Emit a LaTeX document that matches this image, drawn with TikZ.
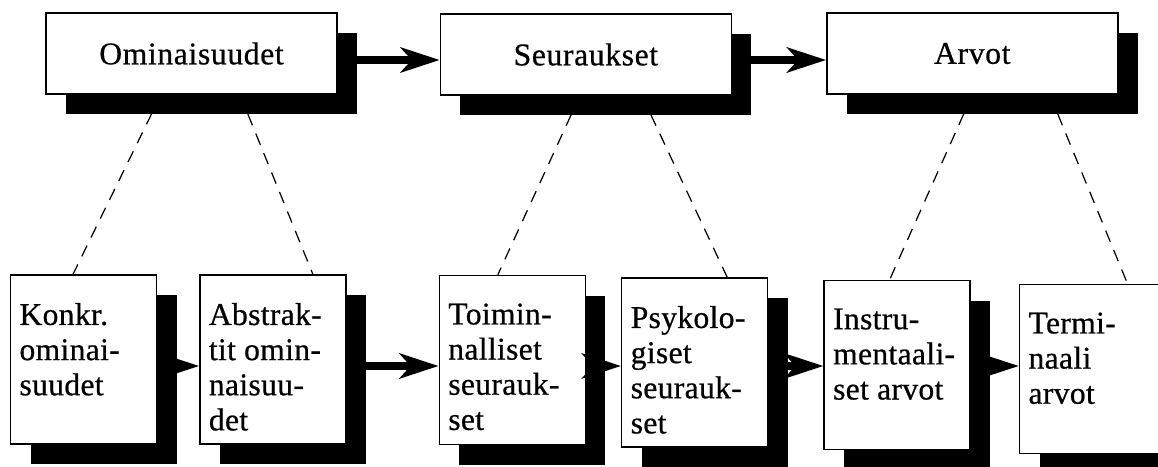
\documentclass[tikz,border=0pt]{standalone}
\usepackage{fontspec}
\newfontfamily\topfont[LetterSpace=2,FakeBold=0.6]{Liberation Serif}
\newfontfamily\lowfont[LetterSpace=1,FakeBold=0.6]{Liberation Serif}
\usetikzlibrary{arrows.meta,shapes,shadows,positioning}
\tikzset{
	topbox/.style={
		rectangle,
		draw=black,
		line width=0.8pt,
		fill=white,
		minimum width=5.82cm,
		minimum height=1.62cm,
		font=\topfont\fontsize{18}{20}\selectfont,
		drop shadow={shadow xshift=0.4cm,shadow yshift=-0.4cm,fill=black,opacity=1}
	},
	lowbox/.style={
		rectangle,
		draw=black,
		line width=0.8pt,
		fill=white,
		minimum width=2.92cm,
		minimum height=3.38cm,
		inner xsep=0.18cm,
		inner ysep=0.06cm,
		font=\lowfont\fontsize{18}{20}\selectfont,
		drop shadow={shadow xshift=0.4cm,shadow yshift=-0.4cm,fill=black,opacity=1}
	},
	arrow/.style={
		draw=black,
		line width=4.5pt,
		-{Stealth[length=0.78cm,width=0.5cm,inset=0.22cm]}
	},
	link/.style={
		draw=black,
		line width=0.7pt,
		dash pattern=on 0.24cm off 0.18cm
	},
}
% text of the lower boxes sits at the top left
\newcommand{\lowlines}[1]{\parbox[c][3.26cm][t]{2.56cm}{\vspace*{0.5cm}\raggedright\exhyphenpenalty=10000 #1}}

\begin{document}
\begin{tikzpicture}
\useasboundingbox (0,0) rectangle (23.16,9.32);
\clip (0,0) rectangle (23.16,9.32);

\node [topbox] (omin) at (3.83,8.25) {Ominaisuudet};
\node [topbox, right=2.04cm of omin, yshift=-0.02cm] (seur) {Seuraukset};
\node [topbox, right=1.88cm of seur, yshift=0.02cm] (arvot) {Arvot};

\node [lowbox] (konkr) at (1.67,2.13) {\lowlines{Konkr.\\ominai-\\suudet}};
\node [lowbox, right=0.84cm of konkr] (abstr) {\lowlines{Abstrak-\\tit omin-\\naisuu-\\det}};
\node [lowbox, right=1.84cm of abstr, yshift=-0.01cm] (toim) {\lowlines{Toimin-\\nalliset\\seurauk-\\set}};
\node [lowbox, right=0.70cm of toim, yshift=-0.05cm] (psyk) {\lowlines{Psykolo-\\giset\\seurauk-\\set}};
\node [lowbox, right=1.10cm of psyk, yshift=-0.05cm] (instr) {\lowlines{Instru-\\mentaali-\\set arvot}};
\node [lowbox, right=0.96cm of instr, yshift=-0.08cm] (term) {\lowlines{Termi-\\naali\\arvot}};

\coordinate (toprow) at (0,8.12);
\coordinate (lowrow) at (0,2.0);

% dashed links from each upper box down to its two parts
\path
([xshift=-0.61cm]omin.south) edge[link] ([xshift=-0.21cm]konkr.north)
([xshift=0.97cm]omin.south) edge[link] ([xshift=0.80cm]abstr.north)
([xshift=-0.12cm]seur.south) edge[link] ([xshift=-0.29cm]toim.north)
([xshift=1.12cm]seur.south) edge[link] ([xshift=0.65cm]psyk.north)
(arvot.south) edge[link] ([xshift=-0.15cm]instr.north)
([xshift=1.55cm]arvot.south) edge[link] ([xshift=0.70cm]term.north)
;

\path
(omin.east |- toprow) edge[arrow] (seur.west |- toprow)
(seur.east |- toprow) edge[arrow] (arvot.west |- toprow)
(konkr.east |- lowrow) edge[arrow] (abstr.west |- lowrow)
(abstr.east |- lowrow) edge[arrow] (toim.west |- lowrow)
(toim.east |- lowrow) edge[arrow] (psyk.west |- lowrow)
(psyk.east |- lowrow) edge[arrow] (instr.west |- lowrow)
(instr.east |- lowrow) edge[arrow] (term.west |- lowrow)
;
\end{tikzpicture}
\end{document}
